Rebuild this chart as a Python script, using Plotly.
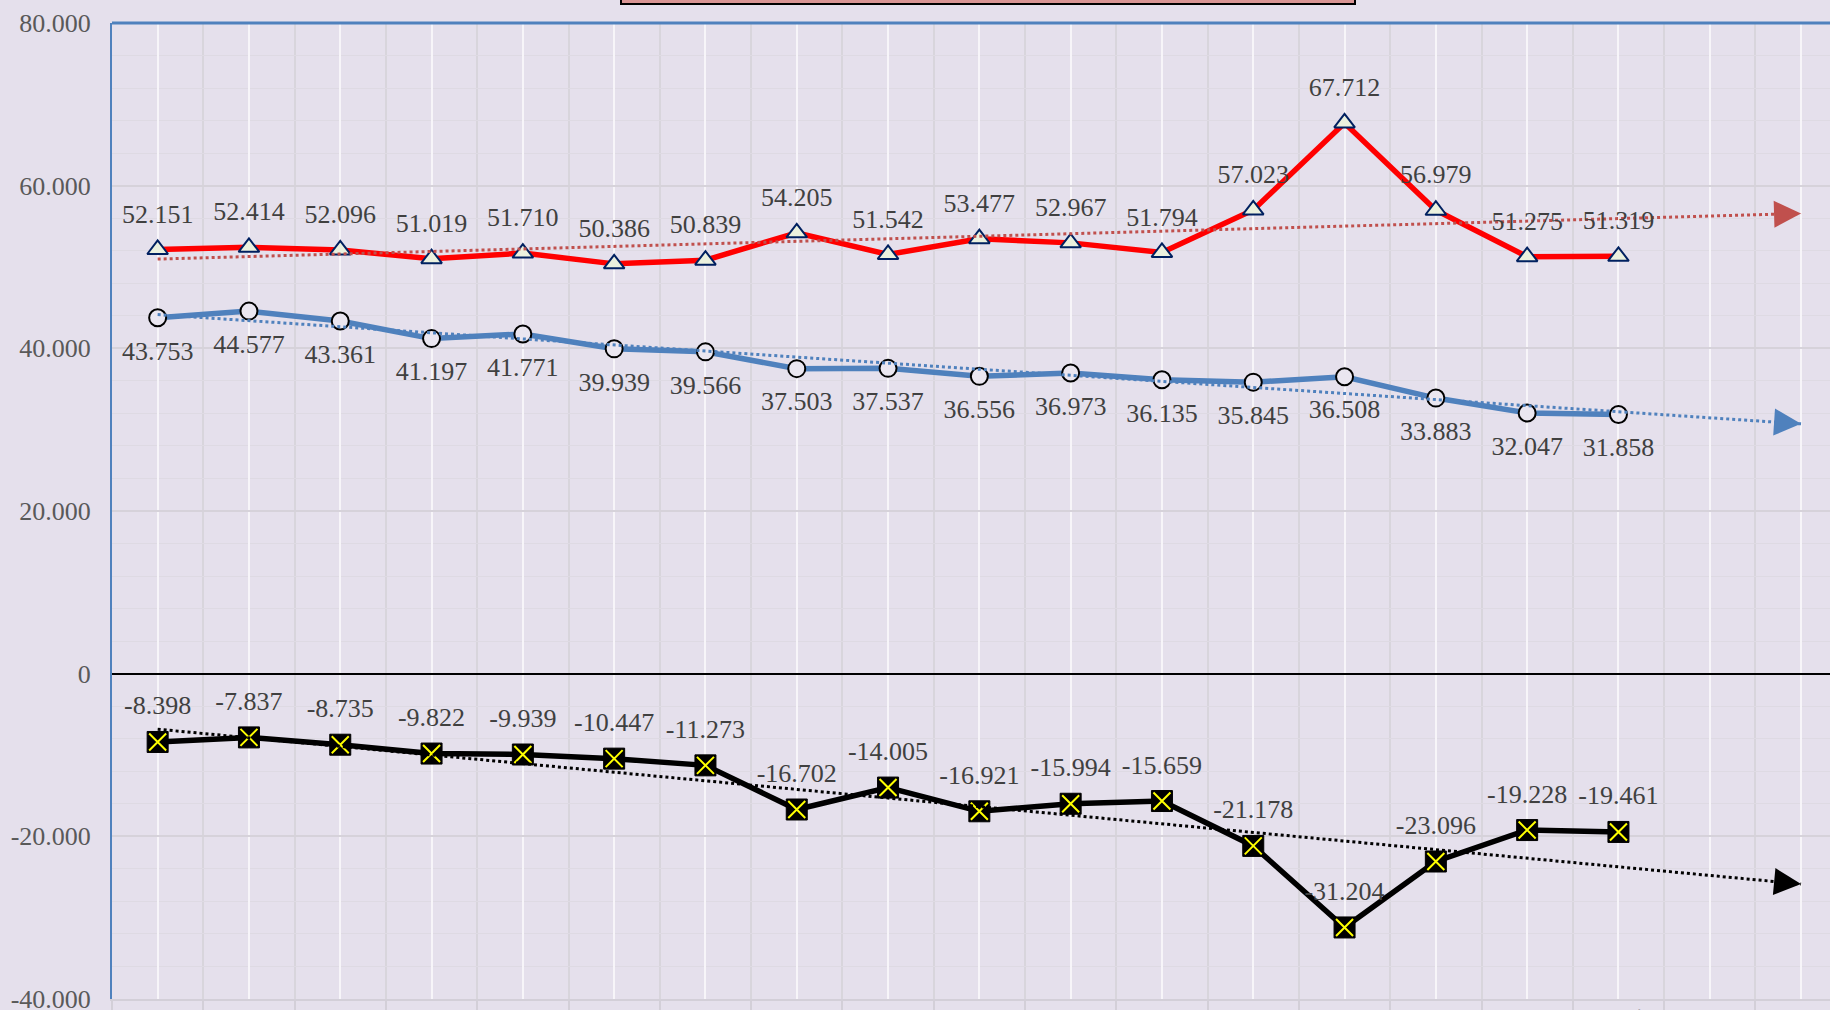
import numpy as np
import plotly.graph_objects as go

# ---------------- data ----------------
years = list(range(2008, 2027))            # categories incl. 2 forecast periods
data_years = list(range(2008, 2025))
year_labels = ["2008", "2009", "2010", "2011", "2012", "2013", "2014", "2015", "2016",
               "2017", "2018", "2019", "2020", "2021", "2022", "2023", "2024年", "", ""]
red_vals = [52151, 52414, 52096, 51019, 51710, 50386, 50839, 54205, 51542,
            53477, 52967, 51794, 57023, 67712, 56979, 51275, 51319]
blue_vals = [43753, 44577, 43361, 41197, 41771, 39939, 39566, 37503, 37537,
             36556, 36973, 36135, 35845, 36508, 33883, 32047, 31858]
black_vals = [-8398, -7837, -8735, -9822, -9939, -10447, -11273, -16702, -14005,
              -16921, -15994, -15659, -21178, -31204, -23096, -19228, -19461]
y_ticks = [-40000, -20000, 0, 20000, 40000, 60000, 80000]

# ---------------- geometry / style ----------------
W, H = 1830, 1010
L, T, B, R = 112, 23, 11, 0
CAT_W = 91.3
BG = "#E5E0EC"
FONT = "Liberation Serif, Noto Sans CJK JP, serif"
LBL_COLOR = "#404040"
LBL_SIZE = 26


def fmt(v):
    return format(int(v), ",").replace(",", ".")


def trend_fit(vals):
    xi = np.arange(len(vals))
    k, b = np.polyfit(xi, vals, 1)
    return k, b


fig = go.Figure()

# main series
fig.add_trace(go.Scatter(
    x=data_years, y=red_vals, mode="lines+markers", name="red",
    line=dict(color="#FF0000", width=5.5),
    marker=dict(symbol="triangle-up", size=18, color="#EBF1DE",
                line=dict(color="#002060", width=2)),
    hoverinfo="skip"))
fig.add_trace(go.Scatter(
    x=data_years, y=blue_vals, mode="lines+markers", name="blue",
    line=dict(color="#4F81BD", width=5.5),
    marker=dict(symbol="circle", size=17, color="#EAE6F0",
                line=dict(color="#000000", width=2)),
    hoverinfo="skip"))
fig.add_trace(go.Scatter(
    x=data_years, y=black_vals, mode="lines+markers", name="black",
    line=dict(color="#000000", width=5.5),
    marker=dict(symbol="square", size=21, color="#000000",
                line=dict(color="#000000", width=1)),
    hoverinfo="skip"))
fig.add_trace(go.Scatter(
    x=data_years, y=black_vals, mode="markers", showlegend=False,
    marker=dict(symbol="x-thin", size=17, color="#FFFF00",
                line=dict(color="#FFFF00", width=2)),
    hoverinfo="skip"))

# trendlines (linear fit, forecast 2 periods) with arrow heads
for vals, col in ((red_vals, "#C0504D"), (blue_vals, "#4F81BD"), (black_vals, "#000000")):
    k, b = trend_fit(vals)
    xe = np.arange(len(years))
    tv = list(k * xe + b)
    fig.add_trace(go.Scatter(
        x=years, y=tv, mode="lines", showlegend=False,
        line=dict(color=col, width=3, dash="dot"),
        hoverinfo="skip"))
    x_tail = len(years) - 1 - 0.25
    fig.add_annotation(
        x=years[-1], y=tv[-1], ax=years[0] + x_tail, ay=k * x_tail + b,
        xref="x", yref="y", axref="x", ayref="y", text="",
        showarrow=True, arrowhead=2, arrowsize=1.8, arrowwidth=3,
        arrowcolor=col, standoff=0)

# data labels
for vals, pos, msz in ((red_vals, "top center", 31), (blue_vals, "bottom center", 34),
                       (black_vals, "top center", 32)):
    fig.add_trace(go.Scatter(
        x=data_years, y=vals, mode="markers+text", showlegend=False,
        marker=dict(size=msz, color="rgba(0,0,0,0)"),
        text=[fmt(v) for v in vals], textposition=pos,
        textfont=dict(family=FONT, size=LBL_SIZE, color=LBL_COLOR),
        hoverinfo="skip"))

x_range = [years[0] - 0.5, years[0] - 0.5 + (W - L - R) / CAT_W]

fig.update_layout(
    width=W, height=H, autosize=False,
    margin=dict(l=L, r=R, t=T, b=B, pad=0),
    paper_bgcolor=BG, plot_bgcolor=BG,
    showlegend=False,
    font=dict(family=FONT, size=LBL_SIZE, color="#595959"),
    xaxis=dict(
        range=x_range, tickmode="array", tickvals=years, ticktext=year_labels,
        automargin=False, ticklabeloverflow="allow",
        showgrid=True, gridcolor="#F7F5F9", gridwidth=2,
        ticks="", showline=True, linecolor="#D3CFD8", linewidth=2,
        zeroline=False,
        tickfont=dict(family=FONT, size=LBL_SIZE, color="#404040"),
        minor=dict(tick0=years[0] - 0.5, dtick=1, showgrid=True,
                   gridcolor="#D8D5DC", gridwidth=2, ticks="outside",
                   ticklen=14, tickcolor="#D3CFD8", tickwidth=2),
    ),
    yaxis=dict(
        range=[y_ticks[0], y_ticks[-1]], tickmode="array", tickvals=y_ticks,
        ticktext=[fmt(v) for v in y_ticks], automargin=False,
        ticklabeloverflow="allow",
        showgrid=True, gridcolor="#D6D2DA", gridwidth=2,
        showline=True, linecolor="#4F81BD", linewidth=2,
        zeroline=True, zerolinecolor="#000000", zerolinewidth=2,
        ticks="", ticklabelstandoff=14,
        tickfont=dict(family=FONT, size=LBL_SIZE, color="#595959"),
        minor=dict(dtick=4000, tick0=0, showgrid=True, gridcolor="#DEDAE3", gridwidth=1),
    ),
)

plot_w = W - L - R
plot_h = H - T - B
# top border of plot area
fig.add_shape(type="line", xref="paper", yref="paper", x0=0, x1=1, y0=1, y1=1,
              line=dict(color="#4F81BD", width=3))
# title box (cut off at top)
fig.add_shape(type="rect", xref="paper", yref="paper",
              x0=(621 - L) / plot_w, x1=(1355 - L) / plot_w,
              y0=(plot_h + T - 4) / plot_h, y1=(plot_h + T + 40) / plot_h,
              fillcolor="#D99594", line=dict(color="#000000", width=2), layer="above")

fig.write_html(
    "out.html",
    config={"displayModeBar": False},
    post_script="document.body.style.margin='0';document.body.style.overflow='hidden';")
